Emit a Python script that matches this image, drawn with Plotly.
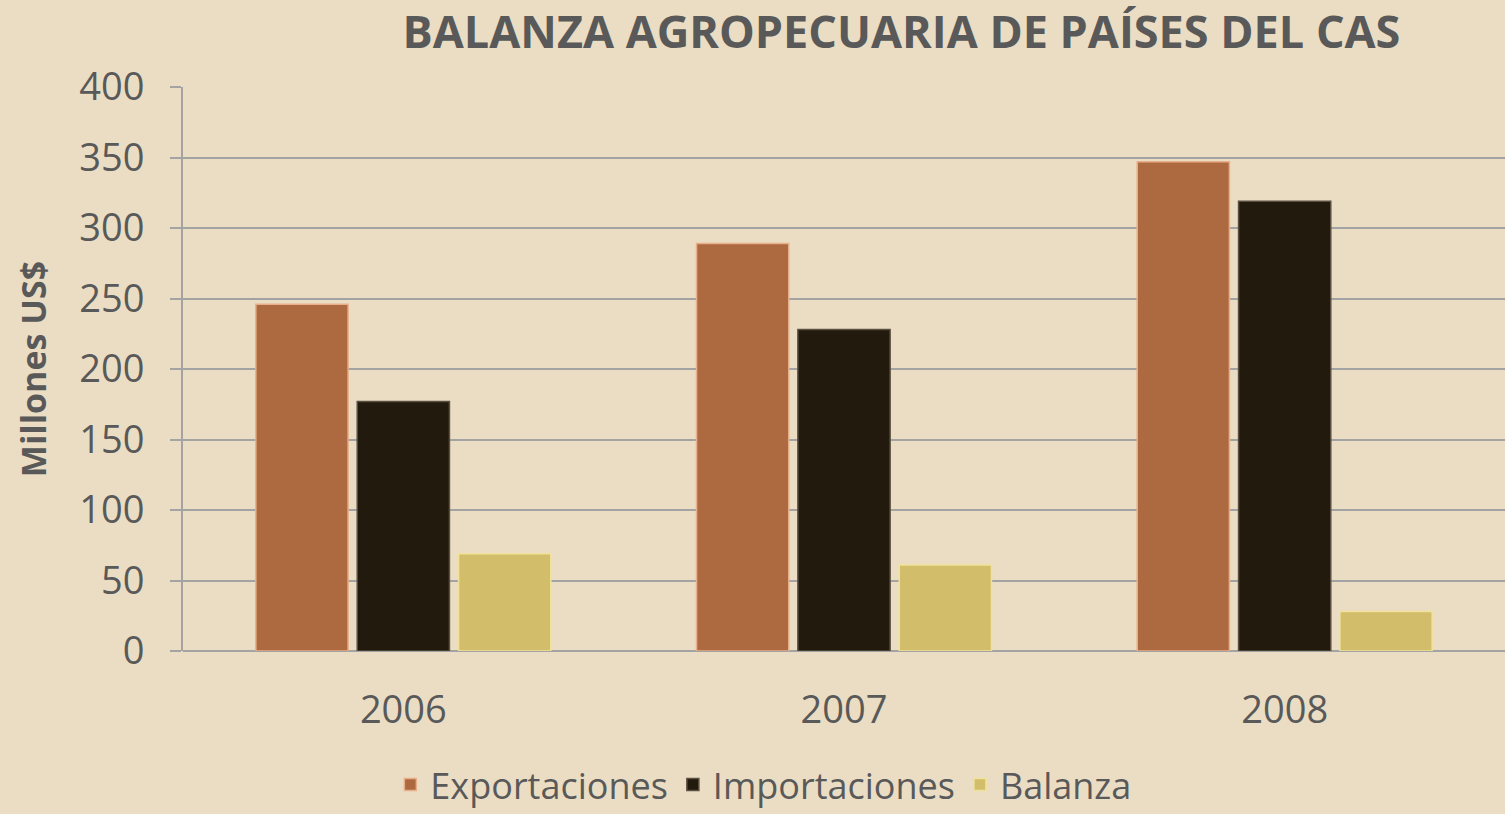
import plotly.graph_objects as go

years = ["2006", "2007", "2008"]
exportaciones = [246, 289, 347]
importaciones = [177, 228, 319]
balanza = [69, 61, 28]
y_ticks = [0, 50, 100, 150, 200, 250, 300, 350, 400]

FONT = "Open Sans"
TXT = "#595959"
GRID = "#a3a3a3"

fig = go.Figure()
fig.add_bar(x=years, y=exportaciones, name="Exportaciones",
            marker=dict(color="#ad6a40", line=dict(color="#e8b08a", width=1.5)))
fig.add_bar(x=years, y=importaciones, name="Importaciones",
            marker=dict(color="#231a0e", line=dict(color="#5a4f40", width=1.5)))
fig.add_bar(x=years, y=balanza, name="Balanza",
            marker=dict(color="#d2bd6a", line=dict(color="#f0e29a", width=1.5)))

fig.update_layout(
    width=1505, height=814, autosize=False,
    paper_bgcolor="#ebddc3", plot_bgcolor="#ebddc3",
    margin=dict(l=183, r=0, t=87, b=163, autoexpand=False),
    barmode="group", bargap=0.31, bargroupgap=0.09,
    font=dict(family=FONT, color=TXT, size=36),
    title=dict(text="<b>BALANZA AGROPECUARIA DE PAÍSES DEL CAS</b>",
               x=0.599, xanchor="center", y=0.96, yanchor="middle",
               font=dict(family=FONT, size=45, color=TXT)),
    legend=dict(orientation="h", x=0.439, xanchor="center",
                yref="container", y=0.036, yanchor="middle",
                font=dict(family=FONT, size=36, color=TXT), bgcolor="rgba(0,0,0,0)",
                itemwidth=30, tracegroupgap=0),
    showlegend=True,
)
fig.update_xaxes(showgrid=False, showline=False, ticks="", tickfont=dict(size=38),
                 ticklabelstandoff=33, automargin=False)
fig.update_yaxes(range=[0, 400], tickvals=y_ticks, showgrid=True, gridcolor=GRID,
                 gridwidth=2, showline=True, linecolor=GRID, linewidth=2,
                 ticks="outside", ticklen=11, tickcolor=GRID, tickwidth=2,
                 tickfont=dict(size=38), ticklabelstandoff=18, automargin=False,
                 zeroline=True, zerolinecolor=GRID, zerolinewidth=2,
                 title=dict(text="<b>Millones US$</b>", font=dict(size=34, color=TXT), standoff=22))

fig.write_html("out.html", config={"displayModeBar": False},
               post_script="document.body.style.margin='0';document.body.style.padding='0';document.body.style.overflow='hidden';")
